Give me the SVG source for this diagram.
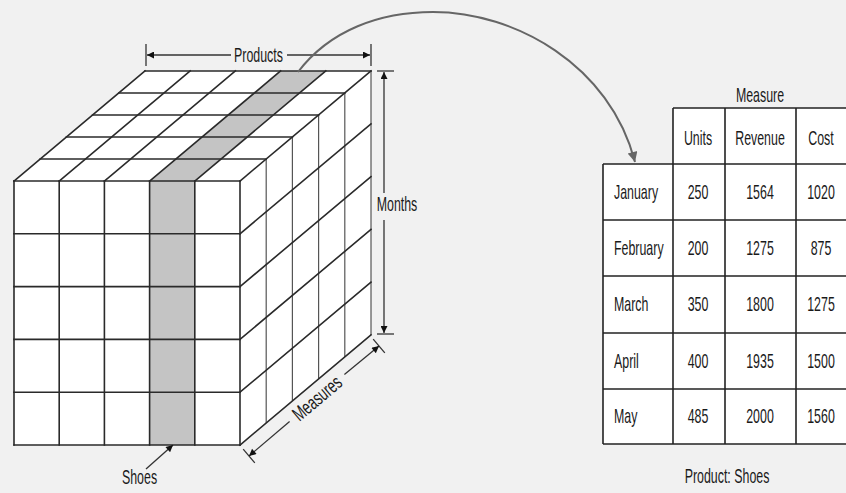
<svg xmlns="http://www.w3.org/2000/svg" width="846" height="493" viewBox="0 0 846 493">
<style>
.t{font-family:"Liberation Sans",Arial,sans-serif;font-size:20px;fill:#1a1a1a}
.m{text-anchor:middle}
.g{stroke:#2a2a2a;stroke-width:1.6;fill:none;stroke-linecap:square}
.rv{stroke:#555;stroke-width:1.2;fill:none}
.d{stroke:#333;stroke-width:1.3;fill:none}
.tb{stroke:#222;stroke-width:1.6;fill:none}
</style>
<defs>
<marker id="ah" viewBox="0 0 10 10" refX="10" refY="5" markerWidth="10" markerHeight="7" markerUnits="userSpaceOnUse" orient="auto">
<path d="M0,0 L10,5 L0,10 z" fill="#111"/>
</marker>
<marker id="ag" viewBox="0 0 10 10" refX="10" refY="5" markerWidth="13" markerHeight="10" markerUnits="userSpaceOnUse" orient="auto">
<path d="M0,0 L10,5 L0,10 z" fill="#666"/>
</marker>
</defs>
<rect x="0" y="0" width="846" height="493" fill="#f1f1f1"/>

<g id="cube">
<polygon points="14,181 240,181 240,445 14,445" fill="#fff"/>
<polygon points="14,181 145,71 371,71 240,181" fill="#fff"/>
<polygon points="240,181 371,71 371,335 240,445" fill="#fff"/>
<rect x="149.6" y="181" width="45.2" height="264" fill="#c4c4c4"/>
<polygon points="149.6,181 194.8,181 325.8,71 280.6,71" fill="#c4c4c4"/>
<g class="rv">
<line x1="266.2" y1="159" x2="266.2" y2="423"/>
<line x1="292.4" y1="137" x2="292.4" y2="401"/>
<line x1="318.6" y1="115" x2="318.6" y2="379"/>
<line x1="344.8" y1="93" x2="344.8" y2="357"/>
<line x1="371" y1="71" x2="371" y2="335"/>
</g>
<g class="g">
<line x1="14" y1="181" x2="14" y2="445"/>
<line x1="59.2" y1="181" x2="59.2" y2="445"/>
<line x1="104.4" y1="181" x2="104.4" y2="445"/>
<line x1="149.6" y1="181" x2="149.6" y2="445"/>
<line x1="194.8" y1="181" x2="194.8" y2="445"/>
<line x1="240" y1="181" x2="240" y2="445"/>
<line x1="14" y1="181" x2="240" y2="181"/>
<line x1="14" y1="233.8" x2="240" y2="233.8"/>
<line x1="14" y1="286.6" x2="240" y2="286.6"/>
<line x1="14" y1="339.4" x2="240" y2="339.4"/>
<line x1="14" y1="392.2" x2="240" y2="392.2"/>
<line x1="14" y1="445" x2="240" y2="445"/>
<line x1="40.2" y1="159" x2="266.2" y2="159"/>
<line x1="66.4" y1="137" x2="292.4" y2="137"/>
<line x1="92.6" y1="115" x2="318.6" y2="115"/>
<line x1="118.8" y1="93" x2="344.8" y2="93"/>
<line x1="145" y1="71" x2="371" y2="71"/>
<line x1="14" y1="181" x2="145" y2="71"/>
<line x1="59.2" y1="181" x2="190.2" y2="71"/>
<line x1="104.4" y1="181" x2="235.4" y2="71"/>
<line x1="149.6" y1="181" x2="280.6" y2="71"/>
<line x1="194.8" y1="181" x2="325.8" y2="71"/>
<line x1="240" y1="181" x2="371" y2="71"/>
<line x1="240" y1="233.8" x2="371" y2="123.8"/>
<line x1="240" y1="286.6" x2="371" y2="176.6"/>
<line x1="240" y1="339.4" x2="371" y2="229.4"/>
<line x1="240" y1="392.2" x2="371" y2="282.2"/>
<line x1="240" y1="445" x2="371" y2="335"/>
</g>
</g>

<g id="dim-products">
<g class="d">
<line x1="146" y1="44" x2="146" y2="66"/>
<line x1="371" y1="44" x2="371" y2="66"/>
<line x1="231" y1="55" x2="147" y2="55" marker-end="url(#ah)"/>
<line x1="287" y1="55" x2="370" y2="55" marker-end="url(#ah)"/>
</g>
<text class="t m" transform="translate(258.5,62) scale(0.62,1)">Products</text>
</g>

<g id="dim-months">
<g class="d">
<line x1="377" y1="71" x2="394" y2="71"/>
<line x1="377" y1="334" x2="394" y2="334"/>
<line x1="384" y1="193" x2="384" y2="72" marker-end="url(#ah)"/>
<line x1="384" y1="220" x2="384" y2="333" marker-end="url(#ah)"/>
</g>
<text class="t m" transform="translate(397,211) scale(0.62,1)">Months</text>
</g>

<g id="dim-measures">
<g class="d">
<line x1="243.2" y1="449.2" x2="254.8" y2="462.8"/>
<line x1="373.2" y1="339.2" x2="384.8" y2="352.8"/>
<line x1="289.6" y1="421.4" x2="249" y2="456" marker-end="url(#ah)"/>
<line x1="344.4" y1="374.6" x2="379" y2="346" marker-end="url(#ah)"/>
</g>
<text class="t m" transform="translate(317,398) rotate(-40.2) scale(0.66,1)" y="7">Measures</text>
</g>

<g id="shoes-label">
<text class="t m" transform="translate(139.5,484) scale(0.62,1)">Shoes</text>
</g>

<g id="table">
<rect x="603" y="164" width="250" height="280" fill="#fff"/>
<rect x="673" y="108" width="180" height="56" fill="#fff"/>
<g class="tb">
<line x1="673" y1="108" x2="848" y2="108"/>
<line x1="603" y1="164" x2="848" y2="164"/>
<line x1="603" y1="220" x2="848" y2="220"/>
<line x1="603" y1="276" x2="848" y2="276"/>
<line x1="603" y1="333" x2="848" y2="333"/>
<line x1="603" y1="389" x2="848" y2="389"/>
<line x1="603" y1="444" x2="848" y2="444"/>
<line x1="603" y1="164" x2="603" y2="444"/>
<line x1="673" y1="108" x2="673" y2="444"/>
<line x1="725" y1="108" x2="725" y2="444"/>
<line x1="796" y1="108" x2="796" y2="444"/>
</g>
<text class="t m" transform="translate(760,102) scale(0.62,1)">Measure</text>
<text class="t m" transform="translate(698,145) scale(0.62,1)">Units</text>
<text class="t m" transform="translate(760,145) scale(0.62,1)">Revenue</text>
<text class="t m" transform="translate(821,145) scale(0.62,1)">Cost</text>
<text class="t" transform="translate(614,199) scale(0.62,1)">January</text>
<text class="t m" transform="translate(698,199) scale(0.62,1)">250</text>
<text class="t m" transform="translate(760,199) scale(0.62,1)">1564</text>
<text class="t m" transform="translate(821,199) scale(0.62,1)">1020</text>
<text class="t" transform="translate(614,255) scale(0.62,1)">February</text>
<text class="t m" transform="translate(698,255) scale(0.62,1)">200</text>
<text class="t m" transform="translate(760,255) scale(0.62,1)">1275</text>
<text class="t m" transform="translate(821,255) scale(0.62,1)">875</text>
<text class="t" transform="translate(614,311) scale(0.62,1)">March</text>
<text class="t m" transform="translate(698,311) scale(0.62,1)">350</text>
<text class="t m" transform="translate(760,311) scale(0.62,1)">1800</text>
<text class="t m" transform="translate(821,311) scale(0.62,1)">1275</text>
<text class="t" transform="translate(614,368) scale(0.62,1)">April</text>
<text class="t m" transform="translate(698,368) scale(0.62,1)">400</text>
<text class="t m" transform="translate(760,368) scale(0.62,1)">1935</text>
<text class="t m" transform="translate(821,368) scale(0.62,1)">1500</text>
<text class="t" transform="translate(614,423) scale(0.62,1)">May</text>
<text class="t m" transform="translate(698,423) scale(0.62,1)">485</text>
<text class="t m" transform="translate(760,423) scale(0.62,1)">2000</text>
<text class="t m" transform="translate(821,423) scale(0.62,1)">1560</text>
<text class="t m" transform="translate(727,483) scale(0.62,1)">Product: Shoes</text>
</g>

<g id="connectors">
<line class="d" x1="146" y1="469" x2="173" y2="445" marker-end="url(#ah)"/>
<path d="M298,72 C330,30 380,12 433,12 C515,12 610,65 635,162" fill="none" stroke="#666" stroke-width="2" marker-end="url(#ag)"/>
</g>
</svg>
